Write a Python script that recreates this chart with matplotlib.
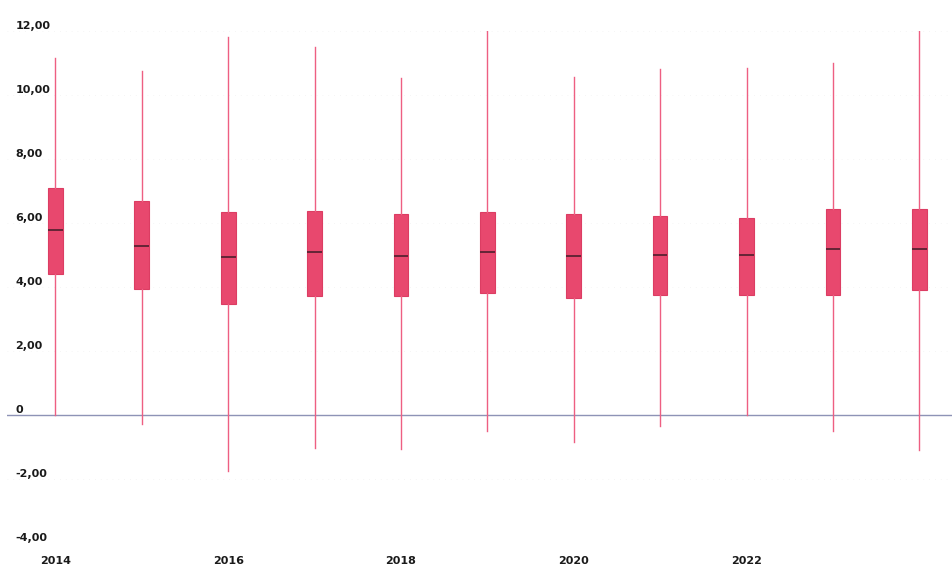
import matplotlib
matplotlib.use("Agg")
import matplotlib.pyplot as plt

# ---- data ----
years = [2014, 2015, 2016, 2017, 2018, 2019, 2020, 2021, 2022, 2023, 2024]
whisker_low = [0.0, -0.28, -1.75, -1.02, -1.06, -0.50, -0.84, -0.33, 0.0, -0.50, -1.09]
q1 = [4.42, 3.94, 3.48, 3.72, 3.72, 3.80, 3.66, 3.75, 3.75, 3.75, 3.90]
median = [5.78, 5.28, 4.95, 5.08, 4.97, 5.08, 4.97, 4.99, 5.01, 5.19, 5.20]
q3 = [7.09, 6.69, 6.34, 6.38, 6.27, 6.34, 6.27, 6.23, 6.16, 6.44, 6.44]
whisker_high = [11.16, 10.74, 11.81, 11.50, 10.53, 12.00, 10.56, 10.81, 10.85, 11.00, 12.27]

yticks = [-4, -2, 0, 2, 4, 6, 8, 10, 12]
ytick_labels = ["-4,00", "-2,00", "0", "2,00", "4,00", "6,00", "8,00", "10,00", "12,00"]
xticks = [2014, 2016, 2018, 2020, 2022]
xtick_labels = ["2014", "2016", "2018", "2020", "2022"]

W, H = 953, 568
fig = plt.figure(figsize=(W / 100, H / 100), dpi=100)
ax = fig.add_axes([7 / W, 25 / H, (W - 7) / W, 512 / H])

stats = []
for i, yr in enumerate(years):
    stats.append(dict(label=str(yr), whislo=whisker_low[i], q1=q1[i], med=median[i],
                      q3=q3[i], whishi=whisker_high[i], fliers=[]))

box_color = "#E8486E"
ax.bxp(stats, positions=years, widths=0.17, patch_artist=True, showcaps=False,
       showfliers=False,
       boxprops=dict(facecolor=box_color, edgecolor="#DC3D63", linewidth=0.8),
       whiskerprops=dict(color="#EE5F82", linewidth=1.0),
       medianprops=dict(color="#5A2232", linewidth=1.3),
       manage_ticks=False, zorder=3)

# faint gridlines
for t in yticks:
    if t != 0:
        ax.axhline(t, color="#f1f1f1", linewidth=0.6, linestyle=(0, (1, 6)), zorder=0)
ax.axhline(0, color="#8E93B6", linewidth=1.0, zorder=2)

ax.set_xlim(2013.44, 2024.39)
ax.set_ylim(-4, 12)

for s in ax.spines.values():
    s.set_visible(False)

ax.set_yticks(yticks, ytick_labels)
ax.set_xticks(xticks, xtick_labels)
ax.tick_params(axis="y", length=0, pad=-6, labelsize=8, labelcolor="#1a1a1a")
ax.tick_params(axis="x", length=0, pad=9, labelsize=8, labelcolor="#1a1a1a")
for lab in ax.get_yticklabels():
    lab.set_horizontalalignment("left")
    lab.set_verticalalignment("bottom")
    lab.set_fontweight("bold")
for lab in ax.get_xticklabels():
    lab.set_fontweight("bold")

fig.savefig("out.png", dpi=100)
